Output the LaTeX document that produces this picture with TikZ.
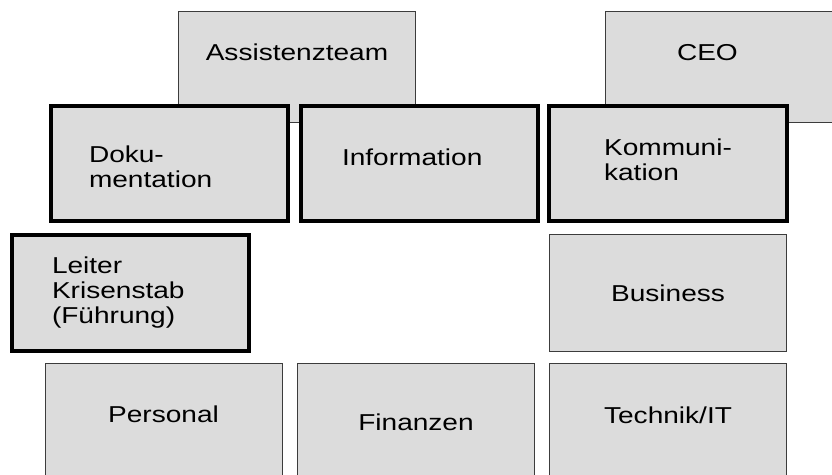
\documentclass[tikz,border=0pt]{standalone}
\definecolor{boxGray}{RGB}{220, 220, 220}
\definecolor{edgeGray}{RGB}{60, 60, 60}
\usepackage{fontspec}
\newfontfamily\boxfont{Liberation Sans}[FakeStretch=1.22]
\usepackage{tikz}
\usetikzlibrary{positioning}

\begin{document}
\begin{tikzpicture}[
    x=1pt, y=-1pt,
    orgbox/.style={rectangle, draw=edgeGray, fill=boxGray, line width=1pt,
                   minimum width=237pt, minimum height=117pt, inner sep=0pt,
                   align=center, font=\boxfont\fontsize{23pt}{25pt}\selectfont},
    leadbox/.style={orgbox, draw=black, line width=4pt},
  ]
    \useasboundingbox (0,0) rectangle (832,474);
    \clip (0,0) rectangle (832,474);

    % upper row, partly covered
    \node[orgbox, minimum height=111pt, text depth=30pt] (ASSIST) at (297,67) {Assistenzteam};
    \node[orgbox, minimum height=111pt, text depth=30pt, align=left,
          text width=94pt, inner xsep=72pt] (CEO) at (724,67) {CEO};

    % staff functions
    \node[leadbox, minimum height=115pt, align=left, text width=161pt,
          inner xsep=38pt, text depth=19pt] (DOKU) at (169.5,163.5) {Doku-\\mentation};
    \node[leadbox, minimum height=115pt, align=left, text width=154pt,
          inner xsep=38pt, text depth=13pt] (INFO) at (419,163.5) {Information};
    \node[leadbox, minimum width=238pt, minimum height=115pt, align=left,
          text depth=7pt] (KOMM) at (668,163.5) {Kommuni-\\kation};

    % head of the crisis team
    \node[leadbox, minimum height=116pt, align=left, text width=156pt,
          inner xsep=40pt] (LEITER) at (130,293) {Leiter\\Krisenstab\\(Führung)};
    \node[orgbox] (BUSINESS) at (668,293) {Business};

    % bottom row
    \node[orgbox, text depth=15pt] (PERSONAL) at (163.5,422) {Personal};
    \node[orgbox] (FINANZEN) at (416,422) {Finanzen};
    \node[orgbox, text depth=14pt] (TECHNIK) at (668,422) {Technik/IT};
  \end{tikzpicture}
\end{document}
